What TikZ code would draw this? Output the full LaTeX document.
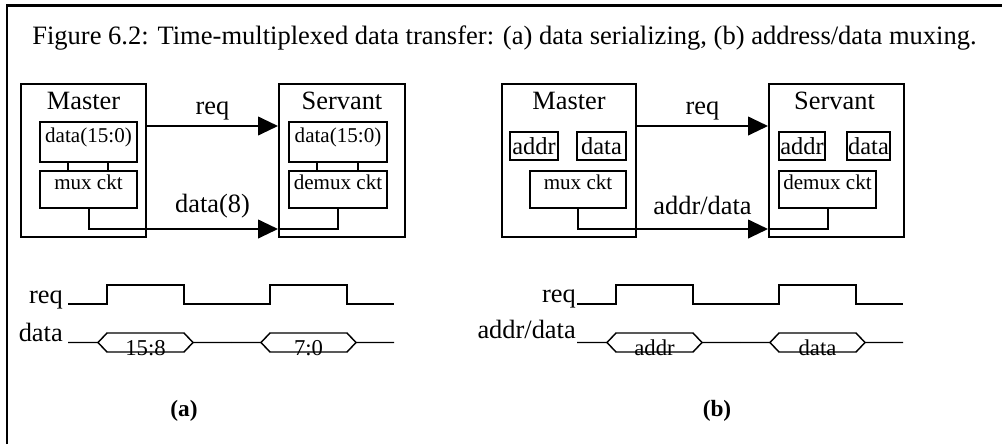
\documentclass[tikz,border=0pt]{standalone}
\usepackage{fontspec}
\setmainfont{Liberation Serif}
\usepackage{tikz}
\usetikzlibrary{arrows.meta,positioning,calc}

\begin{document}
\begin{tikzpicture}[x=0.75pt, y=-0.75pt]
  \tikzset{blk/.style 2 args={draw, line width=1.5pt, inner sep=0pt, minimum width=#1*0.75pt, minimum height=#2*0.75pt},
    ln/.style={line width=1.5pt}, sig/.style={line width=1.5pt, -{Triangle[length=15pt, width=14pt]}},
    wv/.style={line width=1.1pt}, captxt/.style={font=\fontsize{19.9}{24}\selectfont, inner sep=0pt},
    ttl/.style={font=\fontsize{19.8}{24}\selectfont, inner sep=0pt}, inr/.style={font=\fontsize{15.8}{19}\selectfont, inner sep=0pt},
    sml/.style={font=\fontsize{18.3}{22}\selectfont}, blab/.style={font=\fontsize{17}{20}\selectfont, inner sep=0pt},
    subttl/.style={font=\fontsize{17.5}{21}\selectfont\bfseries, inner sep=0pt}}
  \useasboundingbox (0,0) rectangle (1002,444);
  \draw[line width=2pt] (7,444) -- (7,5.5) -- (1002,5.5);
  \node[captxt, anchor=base west] (figcap) at (32,44) {Figure 6.2: Time-multiplexed data transfer: (a) data serializing, (b) address/data muxing.};
  % (a) serializing
  \node[blk={125}{153}] (mA) at (83.5,160.5) {};
  \node[blk={126}{153}] (sA) at (342,160.5) {};
  \node[ttl, anchor=base] (mAt) at ($(mA.north)+(0,26)$) {Master};
  \node[ttl, anchor=base] (sAt) at ($(sA.north)+(0,26)$) {Servant};
  \node[blk={97}{40}] (regA) at (88.5,142) {};
  \node[blk={97}{37}] (muxA) at (88.5,189.5) {};
  \node[blk={98}{40}] (regS) at (338,142) {};
  \node[blk={98}{37}] (demuxA) at (338,189.5) {};
  \node[inr, anchor=base] (regAt) at (regA.center) {data(15:0)};
  \node[inr, anchor=base] (muxAt) at (muxA.center) {mux ckt};
  \node[inr, anchor=base] (regSt) at (regS.center) {data(15:0)};
  \node[inr, anchor=base] (demuxAt) at (demuxA.center) {demux ckt};
  \draw[ln] ($(regA.south west)+(29,0)$) -- ($(muxA.north west)+(29,0)$);
  \draw[ln] ($(regA.south east)+(-30,0)$) -- ($(muxA.north east)+(-30,0)$);
  \draw[ln] ($(regS.south west)+(29,0)$) -- ($(demuxA.north west)+(29,0)$);
  \draw[ln] ($(regS.south east)+(-30,0)$) -- ($(demuxA.north east)+(-30,0)$);
  \coordinate (reqA) at ($(mA.north east)+(0,43)$);
  \coordinate (busA) at ($(sA.south west)+(0,-9)$);
  \draw[sig] (reqA) -- (reqA -| sA.west) node[ttl, midway, anchor=base, yshift=9pt] (reqAl) {req};
  \draw[sig] (muxA.south) |- (busA);
  \draw[ln] (busA) -| (demuxA.south);
  \path (mA.south east) -- (sA.south west) node[ttl, midway, anchor=base, yshift=19.5pt] (busAl) {data(8)};
  % (b) address/data muxing
  \node[blk={134}{153}] (mB) at (569,160.5) {};
  \node[blk={135}{153}] (sB) at (836.5,160.5) {};
  \node[ttl, anchor=base] (mBt) at ($(mB.north)+(0,26)$) {Master};
  \node[ttl, anchor=base] (sBt) at ($(sB.north)+(-2,26)$) {Servant};
  \node[blk={48}{28}, sml] (addrM) at (534,146) {addr};
  \node[blk={49}{28}, sml] (dataM) at (601.5,146) {data};
  \node[blk={96}{37}] (muxB) at (578,189.5) {};
  \node[blk={46}{28}, sml] (addrS) at (802,146) {addr};
  \node[blk={43}{28}, sml] (dataS) at (868.5,146) {data};
  \node[blk={97}{37}] (demuxB) at (827.5,189.5) {};
  \node[inr, anchor=base] (muxBt) at (muxB.center) {mux ckt};
  \node[inr, anchor=base] (demuxBt) at (demuxB.center) {demux ckt};
  \draw[ln] ($(addrM.south east)+(-9,0)$) -- ($(addrM.south east)+(-9,0)$ |- muxB.north);
  \draw[ln] ($(dataM.south west)+(10,0)$) -- ($(dataM.south west)+(10,0)$ |- muxB.north);
  \draw[ln] ($(addrS.south east)+(-8,0)$) -- ($(addrS.south east)+(-8,0)$ |- demuxB.north);
  \draw[ln] ($(dataS.south west)+(9,0)$) -- ($(dataS.south west)+(9,0)$ |- demuxB.north);
  \coordinate (reqB) at ($(mB.north east)+(0,43)$);
  \coordinate (busB) at ($(sB.south west)+(0,-9)$);
  \draw[sig] (reqB) -- (reqB -| sB.west) node[ttl, midway, anchor=base, yshift=9pt] (reqBl) {req};
  \draw[sig] (muxB.south) |- (busB);
  \draw[ln] (busB) -| (demuxB.south);
  \path (mB.south east) -- (sB.south west) node[ttl, midway, anchor=base, yshift=18pt] (busBl) {addr/data};
  % timing
  \foreach \o in {0,509}{
    \foreach \p in {0,163}{
      \draw[wv] (68+\o+\p,304) -- ++(39,0) -- ++(0,-19) -- ++(77,0) -- ++(0,19) -- ++(47,0);
      \draw[wv] (68+\o+\p,342.5) -- ++(30,0) -- ++(9,-9.5) -- ++(77,0) -- ++(9,9.5) -- ++(38,0);
      \draw[wv] (98+\o+\p,342.5) -- ++(9,9.5) -- ++(77,0) -- ++(9,-9.5);
    }
  }
  \node[ttl, anchor=base east] (reqTa) at (63,303) {req};
  \node[ttl, anchor=base east] (datTa) at (63,341) {data};
  \node[blab, anchor=base] (byteHi) at (145.5,355) {15:8};
  \node[blab, anchor=base] (byteLo) at (308.5,355) {7:0};
  \node[ttl, anchor=base east] (reqTb) at (576,302) {req};
  \node[ttl, anchor=base east] (datTb) at (576,338) {addr/data};
  \node[blab, anchor=base] (phAddr) at (654.5,355) {addr};
  \node[blab, anchor=base] (phData) at (817.5,355) {data};
  \node[subttl, anchor=base] (subA) at (184,416) {(a)};
  \node[subttl, anchor=base] (subB) at (717,416) {(b)};
\end{tikzpicture}
\end{document}
